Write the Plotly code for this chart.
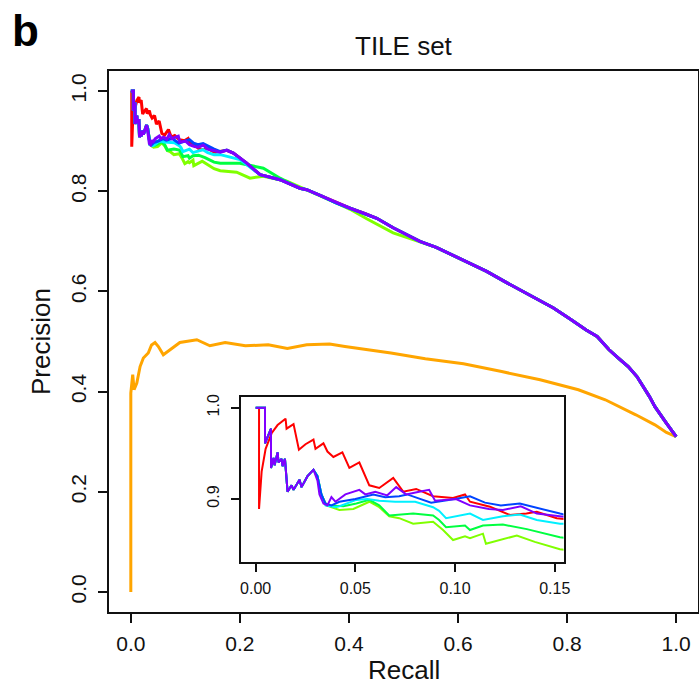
import plotly.graph_objects as go

# ---------------- data ----------------
# shared early path (x < 0.03) of the purple/blue/cyan/green/lime curves
EARLY_X = [0.0, 0.0047, 0.0047, 0.006, 0.0077, 0.0077, 0.009, 0.0095, 0.011, 0.0115,
           0.013, 0.0135, 0.0147, 0.016, 0.018, 0.019, 0.022, 0.023, 0.026, 0.029]
EARLY_Y = [1.0, 1.0, 0.961, 0.968, 0.977, 0.934, 0.945, 0.937, 0.951, 0.940,
           0.944, 0.936, 0.944, 0.908, 0.915, 0.910, 0.921, 0.913, 0.925, 0.932]

RED_X = [0.0017, 0.0017, 0.003, 0.005, 0.008, 0.011, 0.015, 0.0155, 0.019, 0.0217,
         0.025, 0.029, 0.030, 0.034, 0.036, 0.039, 0.0435, 0.047, 0.052, 0.057,
         0.062, 0.069, 0.074, 0.0805, 0.089, 0.099, 0.105, 0.1075, 0.1175, 0.1275,
         0.1358, 0.141, 0.151, 0.155, 0.176, 0.188, 0.2125, 0.237]
RED_Y = [1.0, 0.889, 0.930, 0.955, 0.972, 0.981, 0.988, 0.977, 0.982, 0.954,
         0.960, 0.965, 0.955, 0.961, 0.952, 0.946, 0.951, 0.934, 0.940, 0.915,
         0.912, 0.923, 0.908, 0.911, 0.903, 0.901, 0.905, 0.897, 0.8916, 0.8825,
         0.884, 0.886, 0.879, 0.878, 0.8816, 0.876, 0.856, 0.833]

PURPLE_X = [0.031, 0.032, 0.034, 0.036, 0.038, 0.040, 0.045, 0.052, 0.055, 0.060,
            0.066, 0.0705, 0.0755, 0.082, 0.087, 0.090, 0.1005, 0.1075, 0.117, 0.124,
            0.133, 0.141, 0.1526, 0.164, 0.176, 0.188, 0.2125, 0.237]
PURPLE_Y = [0.920, 0.905, 0.895, 0.893, 0.902, 0.897, 0.905, 0.910, 0.905, 0.908,
            0.904, 0.913, 0.905, 0.908, 0.910, 0.898, 0.900, 0.893, 0.889, 0.888,
            0.892, 0.884, 0.881, 0.878, 0.8816, 0.876, 0.856, 0.833]

BLUE_X = [0.031, 0.033, 0.035, 0.038, 0.042, 0.050, 0.059, 0.065, 0.072, 0.076,
          0.088, 0.100, 0.1075, 0.115, 0.123, 0.1325, 0.141, 0.1526, 0.164, 0.176,
          0.188, 0.2125, 0.237]
BLUE_Y = [0.925, 0.905, 0.895, 0.893, 0.897, 0.900, 0.905, 0.902, 0.903, 0.905,
          0.896, 0.900, 0.903, 0.896, 0.893, 0.895, 0.890, 0.884, 0.879, 0.882,
          0.876, 0.856, 0.833]

CYAN_X = [0.031, 0.033, 0.035, 0.040, 0.042, 0.0505, 0.056, 0.062, 0.070, 0.080,
          0.089, 0.092, 0.0955, 0.1075, 0.114, 0.124, 0.1325, 0.141, 0.1526, 0.164,
          0.200, 0.237]
CYAN_Y = [0.925, 0.905, 0.893, 0.891, 0.892, 0.899, 0.900, 0.898, 0.897, 0.897,
          0.891, 0.887, 0.879, 0.884, 0.877, 0.881, 0.883, 0.877, 0.873, 0.873,
          0.863, 0.833]

GREEN_X = [0.031, 0.033, 0.0355, 0.044, 0.0505, 0.057, 0.062, 0.067, 0.079, 0.089,
           0.092, 0.0955, 0.105, 0.1075, 0.114, 0.124, 0.136, 0.1526, 0.164, 0.200,
           0.243, 0.2736]
GREEN_Y = [0.925, 0.905, 0.893, 0.892, 0.895, 0.899, 0.893, 0.882, 0.884, 0.882,
           0.877, 0.869, 0.871, 0.866, 0.871, 0.872, 0.867, 0.858, 0.856, 0.856,
           0.846, 0.826]

LIME_X = [0.031, 0.033, 0.0355, 0.042, 0.049, 0.057, 0.062, 0.067, 0.072, 0.079,
          0.089, 0.094, 0.099, 0.105, 0.1075, 0.114, 0.1155, 0.131, 0.140, 0.1526,
          0.164, 0.194, 0.2186, 0.243, 0.286, 0.3225, 0.3775, 0.402, 0.4325, 0.481,
          0.530]
LIME_Y = [0.925, 0.905, 0.893, 0.888, 0.889, 0.897, 0.891, 0.881, 0.879, 0.873,
          0.875, 0.866, 0.855, 0.859, 0.857, 0.862, 0.851, 0.860, 0.853, 0.845,
          0.841, 0.838, 0.826, 0.830, 0.820, 0.803, 0.776, 0.764, 0.745, 0.717,
          0.699]

# common middle and end of the rainbow curves
MID_X = [0.2736, 0.310, 0.3225, 0.350, 0.3775, 0.402, 0.430, 0.451, 0.481, 0.505, 0.530]
MID_Y = [0.823, 0.806, 0.803, 0.790, 0.776, 0.766, 0.755, 0.746, 0.727, 0.713, 0.700]
END_X = [0.560, 0.600, 0.6525, 0.685, 0.7136, 0.745, 0.775, 0.8055, 0.835, 0.855,
         0.877, 0.895, 0.912, 0.928, 0.940, 0.951, 0.961, 0.972, 0.982, 0.992, 1.0]
END_Y = [0.688, 0.667, 0.640, 0.620, 0.603, 0.585, 0.567, 0.545, 0.523, 0.510,
         0.4835, 0.466, 0.450, 0.430, 0.410, 0.390, 0.370, 0.352, 0.337, 0.322, 0.310]

ORANGE_X = [0.0, 0.0, 0.0035, 0.006, 0.011, 0.017, 0.023, 0.032, 0.038, 0.0444,
            0.0505, 0.0596, 0.072, 0.090, 0.121, 0.145, 0.173, 0.210, 0.252, 0.287,
            0.3225, 0.3645, 0.3926, 0.4347, 0.477, 0.540, 0.610, 0.680, 0.7505, 0.8207,
            0.870, 0.926, 0.961, 0.982, 1.0]
ORANGE_Y = [0.0, 0.397, 0.434, 0.404, 0.417, 0.450, 0.467, 0.477, 0.493, 0.498,
            0.490, 0.4735, 0.4835, 0.498, 0.5035, 0.4915, 0.498, 0.4915, 0.4935, 0.486,
            0.4935, 0.495, 0.490, 0.4835, 0.477, 0.4655, 0.4555, 0.440, 0.4235, 0.4036,
            0.3837, 0.3537, 0.3337, 0.3184, 0.310]

MAIN_TICKS = [0.0, 0.2, 0.4, 0.6, 0.8, 1.0]
MAIN_TICK_TEXT = ["0.0", "0.2", "0.4", "0.6", "0.8", "1.0"]
INSET_XTICKS = [0.0, 0.05, 0.10, 0.15]
INSET_XTICK_TEXT = ["0.00", "0.05", "0.10", "0.15"]
INSET_YTICKS = [0.9, 1.0]
INSET_YTICK_TEXT = ["0.9", "1.0"]

# ---------------- assemble series ----------------
series = [
    ("red", "#FF0000", RED_X + MID_X + END_X, RED_Y + MID_Y + END_Y),
    ("lime", "#80FF00", EARLY_X + LIME_X + END_X, EARLY_Y + LIME_Y + END_Y),
    ("green", "#00FF40", EARLY_X + GREEN_X + MID_X[1:] + END_X, EARLY_Y + GREEN_Y + MID_Y[1:] + END_Y),
    ("cyan", "#00F0FF", EARLY_X + CYAN_X + MID_X + END_X, EARLY_Y + CYAN_Y + MID_Y + END_Y),
    ("blue", "#0044FF", EARLY_X + BLUE_X + MID_X + END_X, EARLY_Y + BLUE_Y + MID_Y + END_Y),
    ("purple", "#8000FF", EARLY_X + PURPLE_X + MID_X + END_X, EARLY_Y + PURPLE_Y + MID_Y + END_Y),
]

fig = go.Figure()
fig.add_trace(go.Scatter(x=ORANGE_X, y=ORANGE_Y, mode="lines",
                         line=dict(color="#FFA500", width=3), hoverinfo="skip",
                         showlegend=False))
for name, col, xs, ys in series:
    fig.add_trace(go.Scatter(x=xs, y=ys, mode="lines", name=name,
                             line=dict(color=col, width=3), showlegend=False))
for name, col, xs, ys in series:
    fig.add_trace(go.Scatter(x=xs, y=ys, mode="lines", name=name,
                             line=dict(color=col, width=2), showlegend=False,
                             xaxis="x2", yaxis="y2"))

FONT = "Liberation Sans, Arial, Helvetica, sans-serif"
W, H = 699, 685
ML, MR, MT, MB = 109, 1, 71, 73
PW, PH = W - ML - MR, H - MT - MB


def px_x(X):
    return (X - ML) / PW


def px_y(Y):
    return (H - MB - Y) / PH


axis_common = dict(showline=True, linecolor="#111", linewidth=2, mirror=True,
                   ticks="outside", ticklen=9, tickwidth=2, tickcolor="#111",
                   showgrid=False, zeroline=False, automargin=False,
                   tickfont=dict(family=FONT, size=21, color="#111"))
inset_common = dict(showline=True, linecolor="#111", linewidth=2, mirror=True,
                    ticks="outside", ticklen=8, tickwidth=2, tickcolor="#111",
                    showgrid=False, zeroline=False, automargin=False,
                    tickfont=dict(family=FONT, size=16, color="#111"))

fig.update_layout(
    width=W, height=H,
    margin=dict(l=ML, r=MR, t=MT, b=MB, autoexpand=False),
    paper_bgcolor="white", plot_bgcolor="white",
    xaxis=dict(range=[-0.04, 1.04], tickvals=MAIN_TICKS, ticktext=MAIN_TICK_TEXT,
               ticklabelstandoff=3, **axis_common),
    yaxis=dict(range=[-0.04, 1.04], tickvals=MAIN_TICKS, ticktext=MAIN_TICK_TEXT,
               tickangle=-90, ticklabelstandoff=4, **axis_common),
    xaxis2=dict(domain=[px_x(240.7), px_x(563.5)], anchor="y2",
                range=[-0.0075, 0.1544], tickvals=INSET_XTICKS, ticktext=INSET_XTICK_TEXT,
                ticklabelstandoff=3, **inset_common),
    yaxis2=dict(domain=[px_y(561.7), px_y(397.3)], anchor="x2",
                range=[0.8313, 1.0114], tickvals=INSET_YTICKS, ticktext=INSET_YTICK_TEXT,
                tickangle=-90, ticklabelstandoff=5, **inset_common),
    annotations=[
        dict(text="TILE set", x=0.5, y=px_y(46), xref="paper", yref="paper",
             xanchor="center", yanchor="middle", showarrow=False,
             font=dict(family=FONT, size=26, color="#111")),
        dict(text="Recall", x=0.5, y=px_y(670), xref="paper", yref="paper",
             xanchor="center", yanchor="middle", showarrow=False,
             font=dict(family=FONT, size=26, color="#111")),
        dict(text="Precision", x=px_x(41), y=px_y(342), xref="paper", yref="paper",
             xanchor="center", yanchor="middle", showarrow=False, textangle=-90,
             font=dict(family=FONT, size=26, color="#111")),
        dict(text="<b>b</b>", x=px_x(10), y=px_y(31), xref="paper", yref="paper",
             xanchor="left", yanchor="middle", showarrow=False,
             font=dict(family=FONT, size=44, color="#000")),
    ],
)

fig.write_html("out.html")
